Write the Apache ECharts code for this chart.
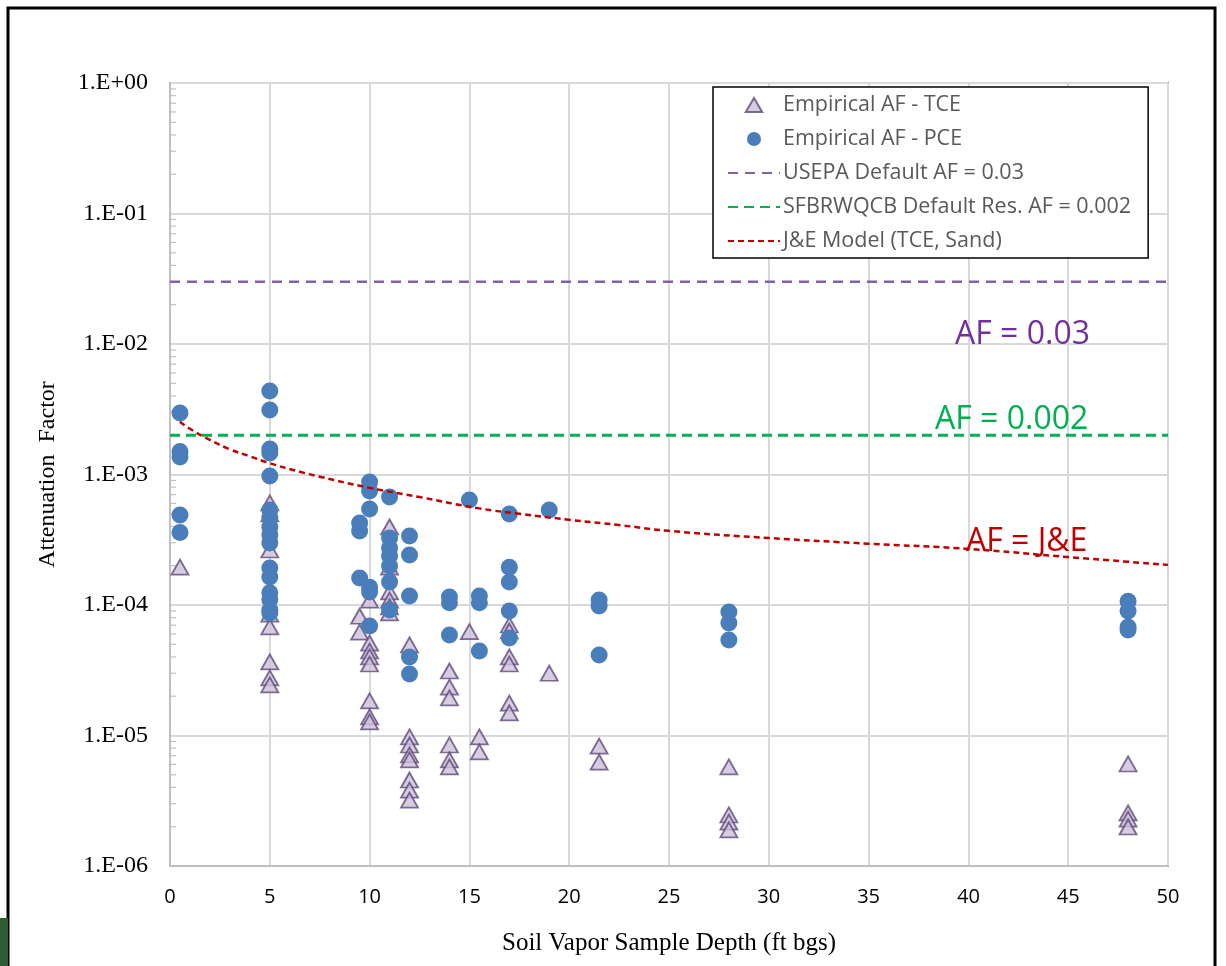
<!DOCTYPE html>
<html>
<head>
<meta charset="utf-8">
<script src="https://cdn.jsdelivr.net/npm/echarts@6/dist/echarts.min.js"></script>
<style>
  html, body { margin: 0; padding: 0; background: #fff; }
  #chart { width: 1226px; height: 966px; }
</style>
</head>
<body>
<div id="chart"></div>
<script>
// ---- data ----
const seriesNames = ['Empirical AF - TCE', 'Empirical AF - PCE', 'USEPA Default AF = 0.03',
  'SFBRWQCB Default Res. AF = 0.002', 'J&E Model (TCE, Sand)'];

const tceDepth = [0.5,
  5, 5, 5, 5, 5, 5, 5, 5,
  9.5, 9.5,
  10, 10, 10, 10, 10, 10, 10, 10,
  11, 11, 11, 11, 11, 11,
  12, 12, 12, 12, 12, 12, 12, 12,
  14, 14, 14, 14, 14, 14,
  15, 15.5, 15.5,
  17, 17, 17, 17, 17, 17,
  19, 21.5, 21.5,
  28, 28, 28, 28,
  48, 48, 48, 48];
const tceAF = [1.95e-4,
  6.05e-4, 5.0e-4, 2.64e-4, 8.5e-5, 6.8e-5, 3.66e-5, 2.76e-5, 2.44e-5,
  8.2e-5, 6.2e-5,
  1.09e-4, 5.1e-5, 4.44e-5, 4.0e-5, 3.53e-5, 1.84e-5, 1.39e-5, 1.27e-5,
  3.96e-4, 1.95e-4, 1.26e-4, 1.09e-4, 9.66e-5, 8.7e-5,
  4.94e-5, 9.75e-6, 8.46e-6, 7.1e-6, 6.5e-6, 4.56e-6, 3.82e-6, 3.2e-6,
  3.12e-5, 2.35e-5, 1.94e-5, 8.46e-6, 6.5e-6, 5.74e-6,
  6.25e-5, 9.75e-6, 7.48e-6,
  7.03e-5, 6.32e-5, 4.0e-5, 3.53e-5, 1.77e-5, 1.49e-5,
  3.0e-5, 8.3e-6, 6.26e-6,
  5.74e-6, 2.46e-6, 2.17e-6, 1.89e-6,
  6.05e-6, 2.55e-6, 2.29e-6, 1.99e-6];

const pceDepth = [0.5, 0.5, 0.5, 0.5, 0.5,
  5, 5, 5, 5, 5, 5, 5, 5, 5, 5, 5, 5, 5, 5, 5, 5,
  9.5, 9.5, 9.5,
  10, 10, 10, 10, 10, 10,
  11, 11, 11, 11, 11, 11, 11,
  12, 12, 12, 12, 12,
  14, 14, 14,
  15,
  15.5, 15.5, 15.5,
  17, 17, 17, 17, 17,
  19,
  21.5, 21.5, 21.5,
  28, 28, 28,
  48, 48, 48, 48];
const pceAF = [2.96e-3, 1.5e-3, 1.36e-3, 4.9e-4, 3.6e-4,
  4.37e-3, 3.12e-3, 1.57e-3, 1.46e-3, 9.75e-4, 5.35e-4, 4.64e-4, 3.96e-4, 3.44e-4, 2.99e-4,
  1.92e-4, 1.64e-4, 1.24e-4, 1.1e-4, 9.16e-5, 8.7e-5,
  4.25e-4, 3.69e-4, 1.61e-4,
  8.77e-4, 7.48e-4, 5.44e-4, 1.37e-4, 1.26e-4, 6.9e-5,
  6.72e-4, 3.26e-4, 2.73e-4, 2.37e-4, 1.99e-4, 1.5e-4, 9.16e-5,
  3.38e-4, 2.42e-4, 1.17e-4, 4.0e-5, 2.96e-5,
  1.15e-4, 1.04e-4, 5.89e-5,
  6.38e-4,
  1.17e-4, 1.04e-4, 4.44e-5,
  4.98e-4, 1.95e-4, 1.5e-4, 9.0e-5, 5.59e-5,
  5.35e-4,
  1.09e-4, 9.82e-5, 4.14e-5,
  8.84e-5, 7.28e-5, 5.39e-5,
  1.07e-4, 9.0e-5, 6.78e-5, 6.43e-5];

const usepaAF = 0.03;
const sfbAF = 0.002;
const lineDepthRange = [0, 50];

const jeDepth = [0.5, 1, 2, 3, 4, 5, 6.5, 7.5, 10, 12.5, 15.5, 17.5, 20, 22.5, 25, 30, 35, 40, 45, 50];
const jeAF = [2.54e-3, 2.24e-3, 1.84e-3, 1.56e-3, 1.38e-3, 1.22e-3, 1.05e-3, 9.62e-4, 7.9e-4, 6.72e-4,
  5.5e-4, 5.0e-4, 4.5e-4, 4.1e-4, 3.7e-4, 3.26e-4, 2.95e-4, 2.69e-4, 2.33e-4, 2.03e-4];

const xTicks = { min: 0, max: 50, step: 5 };
const yDecades = [-6, -5, -4, -3, -2, -1, 0];
const minorMultipliers = [2, 3, 4, 5, 6, 7, 8, 9];

const annotations = [
  { text: 'AF = 0.03', color: '#7030A0' },
  { text: 'AF = 0.002', color: '#00B050' },
  { text: 'AF = J&E', color: '#C00000' }
];

// ---- build ----
const zip = (xs, ys) => xs.map((x, i) => [x, ys[i]]);
const minorTickData = [];
yDecades.slice(0, -1).forEach(k => minorMultipliers.forEach(m => minorTickData.push([0, m * Math.pow(10, k)])));

const chart = echarts.init(document.getElementById('chart'), null, { renderer: 'canvas' });

const serif = '"Liberation Serif", "Times New Roman", serif';
const sans = '"Open Sans", "Noto Sans", sans-serif';
const triPath = 'path://M10,0 L20,17 L0,17 Z';
const hiddenSymbol = { opacity: 0 };

chart.setOption({
  backgroundColor: '#fff',
  animation: false,
  grid: {
    left: 170, right: 58, top: 83, bottom: 100,
    show: true, borderColor: '#222', borderWidth: 1.5, backgroundColor: 'transparent'
  },
  legend: {
    data: [
      { name: seriesNames[0], icon: triPath },
      { name: seriesNames[1], icon: 'circle' },
      { name: seriesNames[2], itemStyle: hiddenSymbol },
      { name: seriesNames[3], itemStyle: hiddenSymbol },
      { name: seriesNames[4], itemStyle: hiddenSymbol }
    ],
    orient: 'vertical',
    left: 713, top: 87,
    backgroundColor: '#fff',
    borderColor: '#000', borderWidth: 1.5,
    padding: [6, 17, 5, 14],
    itemWidth: 52, itemHeight: 14, itemGap: 10,
    symbolKeepAspect: true,
    textStyle: { fontFamily: sans, fontSize: 21.5, lineHeight: 24, color: '#595959', padding: [0, 0, 0, -2] }
  },
  xAxis: {
    type: 'value',
    min: xTicks.min, max: xTicks.max, interval: xTicks.step,
    name: 'Soil Vapor Sample Depth (ft bgs)',
    nameLocation: 'middle', nameGap: 65,
    nameTextStyle: { fontFamily: serif, fontSize: 25, color: '#000' },
    axisLine: { show: true, onZero: false, lineStyle: { color: '#BFBFBF', width: 2 } },
    axisTick: { show: false },
    axisLabel: { fontFamily: sans, fontSize: 20, color: '#000', margin: 21 },
    splitLine: { show: true, lineStyle: { color: '#D9D9D9', width: 2 } }
  },
  yAxis: {
    type: 'log', logBase: 10,
    min: Math.pow(10, yDecades[0]), max: Math.pow(10, yDecades[yDecades.length - 1]),
    name: 'Attenuation  Factor',
    nameLocation: 'middle', nameGap: 110,
    nameTextStyle: { fontFamily: serif, fontSize: 24, color: '#000' },
    axisLine: { show: true, onZero: false, lineStyle: { color: '#BFBFBF', width: 2 } },
    axisTick: { show: false },
    axisLabel: {
      fontFamily: serif, fontSize: 24, color: '#000', margin: 22,
      formatter: v => {
        const e = Math.round(Math.log10(v));
        return '1.E' + (e >= 0 ? '+' : '-') + String(Math.abs(e)).padStart(2, '0');
      }
    },
    splitLine: { show: true, lineStyle: { color: '#D9D9D9', width: 2 } }
  },
  series: [
    {
      name: 'minorTicks', type: 'custom', silent: true, z: 1,
      data: minorTickData,
      renderItem: (params, api) => {
        const p = api.coord([api.value(0), api.value(1)]);
        return { type: 'line', shape: { x1: p[0], y1: p[1], x2: p[0] + 6, y2: p[1] },
          style: { stroke: '#BFBFBF', lineWidth: 1.2 } };
      }
    },
    {
      name: seriesNames[0], type: 'scatter', z: 3,
      symbol: 'triangle', symbolSize: [17, 15],
      itemStyle: { color: '#CCC0DA', borderColor: '#60497A', borderWidth: 1.8 },
      data: zip(tceDepth, tceAF)
    },
    {
      name: seriesNames[1], type: 'scatter', z: 4,
      symbol: 'circle', symbolSize: 17,
      itemStyle: { color: '#4A7EBB', opacity: 1 },
      data: zip(pceDepth, pceAF)
    },
    {
      name: seriesNames[2], type: 'line', z: 5, symbol: 'none',
      lineStyle: { color: '#8064A2', width: 2.5, type: [10, 7] },
      itemStyle: { color: '#8064A2' },
      data: lineDepthRange.map(x => [x, usepaAF])
    },
    {
      name: seriesNames[3], type: 'line', z: 5, symbol: 'none',
      lineStyle: { color: '#00B050', width: 3, type: [10, 6] },
      itemStyle: { color: '#00B050' },
      data: lineDepthRange.map(x => [x, sfbAF])
    },
    {
      name: seriesNames[4], type: 'line', z: 6, symbol: 'none', smooth: true,
      lineStyle: { color: '#C00000', width: 2.5, type: [6, 4] },
      itemStyle: { color: '#C00000' },
      data: zip(jeDepth, jeAF)
    }
  ],
  graphic: [
    { type: 'rect', shape: { x: 8, y: 8, width: 1207, height: 1000 },
      style: { fill: 'none', stroke: '#000', lineWidth: 3 }, z: 100, silent: true },
    { type: 'rect', shape: { x: 0, y: 918, width: 8, height: 48 },
      style: { fill: '#2E5E34' }, z: 100, silent: true },
    { type: 'text', left: 955, top: 319, z: 100,
      style: { text: annotations[0].text, fill: annotations[0].color, font: '32px ' + sans } },
    { type: 'text', left: 935, top: 404, z: 100,
      style: { text: annotations[1].text, fill: annotations[1].color, font: '32px ' + sans } },
    { type: 'text', left: 966, top: 526, z: 100,
      style: { text: annotations[2].text, fill: annotations[2].color, font: '32px ' + sans } }
  ]
});
</script>
</body>
</html>
